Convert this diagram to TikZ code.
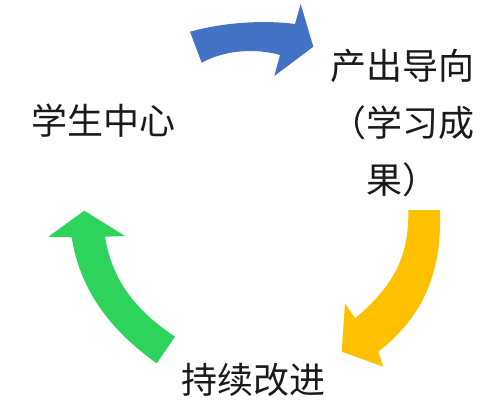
\documentclass[tikz,border=0pt]{standalone}
\usepackage{fontspec}
\newfontfamily\cjk{Noto Sans CJK SC}
\definecolor{arrblue}{HTML}{4472C4}
\definecolor{arrgreen}{HTML}{2ED35B}
\definecolor{arryellow}{HTML}{FFC000}
\definecolor{txt}{HTML}{1A1A1A}
\begin{document}
\begin{tikzpicture}[x=1pt,y=-1pt,
  lbl/.style={inner sep=0pt,outer sep=0pt,text=txt,font=\cjk\fontsize{36}{57}\selectfont,align=center}]
\useasboundingbox (0,0) rectangle (500,401);
\fill[white] (0,0) rectangle (500,401);
% blue arrow
\fill[arrblue] (190,31.7) .. controls (225,22) and (265,20) .. (295,24) -- (300.7,4) -- (313.3,46.7) -- (274.3,76) -- (280,55) .. controls (255,48) and (225,50) .. (201.7,62.7) -- cycle;
% yellow arrow
\fill[arryellow] (408.3,210) -- (440,210) .. controls (442,270) and (425,315) .. (378.3,351.7) -- (383.3,366.7) -- (341.7,351.7) -- (345,303.3) -- (355,318.3) .. controls (395,285) and (409,255) .. (408.3,210) -- cycle;
% green arrow
\fill[arrgreen] (84.3,210.7) -- (125,236) -- (105,236.7) .. controls (112,280) and (135,310) .. (175,336.7) -- (156.7,363.3) .. controls (110,330) and (80,290) .. (71.7,237.3) -- (48.3,236.7) -- cycle;
% labels
\node[lbl] (student) at (103.5,120.5) {学生中心};
\node[lbl] (output) at (402.5,123) {产出导向\\（学习成\\果）};
\node[lbl] (improve) at (253.5,380) {持续改进};
\end{tikzpicture}
\end{document}
